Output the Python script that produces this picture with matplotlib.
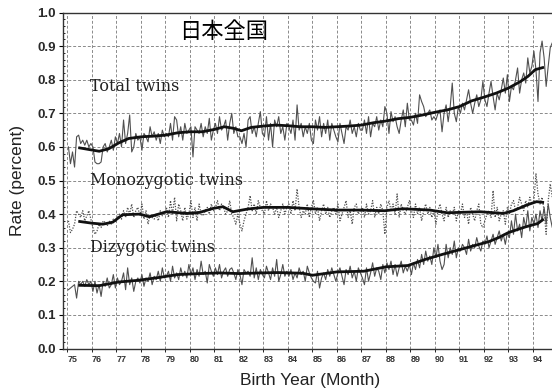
import numpy as np
import matplotlib
matplotlib.use("Agg")
import matplotlib.pyplot as plt
from matplotlib.ticker import FixedLocator, MultipleLocator

# Monthly twin birth rates (percent of births), Japan, Jan 1975 - Dec 1994
years = list(range(1975, 1995))

total_monthly = [
    [0.60, 0.55, 0.585, 0.54, 0.63, 0.635, 0.61, 0.62, 0.605, 0.62, 0.60, 0.61],
    [0.60, 0.555, 0.55, 0.55, 0.555, 0.60, 0.61, 0.585, 0.60, 0.62, 0.59, 0.63],
    [0.61, 0.64, 0.60, 0.68, 0.61, 0.64, 0.695, 0.585, 0.60, 0.64, 0.62, 0.63],
    [0.59, 0.64, 0.63, 0.615, 0.66, 0.63, 0.645, 0.62, 0.64, 0.61, 0.65, 0.63],
    [0.64, 0.63, 0.67, 0.62, 0.69, 0.68, 0.63, 0.66, 0.62, 0.67, 0.64, 0.65],
    [0.66, 0.57, 0.66, 0.65, 0.64, 0.67, 0.63, 0.66, 0.64, 0.685, 0.62, 0.65],
    [0.67, 0.64, 0.69, 0.65, 0.66, 0.68, 0.62, 0.67, 0.70, 0.64, 0.66, 0.63],
    [0.63, 0.61, 0.64, 0.60, 0.68, 0.69, 0.64, 0.66, 0.63, 0.67, 0.705, 0.64],
    [0.63, 0.69, 0.62, 0.67, 0.60, 0.68, 0.66, 0.69, 0.64, 0.66, 0.62, 0.67],
    [0.66, 0.64, 0.68, 0.62, 0.725, 0.65, 0.67, 0.63, 0.66, 0.64, 0.67, 0.62],
    [0.61, 0.68, 0.65, 0.69, 0.63, 0.67, 0.64, 0.68, 0.62, 0.67, 0.65, 0.63],
    [0.615, 0.67, 0.64, 0.61, 0.66, 0.65, 0.68, 0.64, 0.66, 0.63, 0.67, 0.65],
    [0.65, 0.68, 0.64, 0.69, 0.63, 0.67, 0.66, 0.69, 0.65, 0.68, 0.66, 0.72],
    [0.70, 0.64, 0.705, 0.675, 0.69, 0.66, 0.64, 0.68, 0.71, 0.66, 0.73, 0.68],
    [0.68, 0.665, 0.70, 0.67, 0.755, 0.735, 0.72, 0.69, 0.70, 0.71, 0.68, 0.69],
    [0.68, 0.70, 0.71, 0.645, 0.70, 0.725, 0.675, 0.72, 0.79, 0.70, 0.675, 0.72],
    [0.70, 0.73, 0.71, 0.74, 0.77, 0.73, 0.70, 0.73, 0.755, 0.72, 0.74, 0.795],
    [0.74, 0.72, 0.76, 0.795, 0.75, 0.71, 0.76, 0.74, 0.77, 0.805, 0.76, 0.815],
    [0.735, 0.78, 0.77, 0.80, 0.835, 0.76, 0.80, 0.82, 0.79, 0.865, 0.82, 0.84],
    [0.885, 0.83, 0.735, 0.88, 0.915, 0.865, 0.78, 0.84, 0.895, 0.91, 0.88, 0.90],
]

mono_monthly = [
    [0.38, 0.345, 0.355, 0.37, 0.41, 0.40, 0.39, 0.41, 0.38, 0.395, 0.41, 0.385],
    [0.36, 0.34, 0.35, 0.37, 0.36, 0.38, 0.375, 0.365, 0.38, 0.37, 0.385, 0.375],
    [0.39, 0.40, 0.385, 0.41, 0.39, 0.42, 0.40, 0.43, 0.39, 0.41, 0.42, 0.395],
    [0.43, 0.385, 0.41, 0.37, 0.40, 0.39, 0.385, 0.40, 0.38, 0.41, 0.395, 0.40],
    [0.42, 0.39, 0.44, 0.40, 0.45, 0.38, 0.43, 0.41, 0.38, 0.42, 0.385, 0.40],
    [0.44, 0.39, 0.42, 0.38, 0.43, 0.40, 0.395, 0.41, 0.42, 0.40, 0.43, 0.41],
    [0.42, 0.44, 0.41, 0.43, 0.42, 0.40, 0.41, 0.44, 0.40, 0.39, 0.37, 0.40],
    [0.37, 0.35, 0.38, 0.40, 0.42, 0.455, 0.41, 0.43, 0.40, 0.44, 0.42, 0.41],
    [0.40, 0.44, 0.41, 0.43, 0.42, 0.40, 0.42, 0.39, 0.41, 0.43, 0.40, 0.42],
    [0.43, 0.40, 0.44, 0.41, 0.475, 0.42, 0.39, 0.41, 0.40, 0.43, 0.39, 0.42],
    [0.44, 0.40, 0.42, 0.38, 0.41, 0.43, 0.40, 0.42, 0.39, 0.41, 0.42, 0.40],
    [0.43, 0.38, 0.40, 0.42, 0.44, 0.39, 0.41, 0.37, 0.42, 0.43, 0.40, 0.41],
    [0.42, 0.39, 0.43, 0.40, 0.41, 0.44, 0.39, 0.42, 0.40, 0.43, 0.41, 0.34],
    [0.42, 0.44, 0.41, 0.43, 0.40, 0.46, 0.39, 0.43, 0.41, 0.40, 0.42, 0.44],
    [0.41, 0.39, 0.43, 0.40, 0.42, 0.38, 0.41, 0.43, 0.40, 0.42, 0.39, 0.41],
    [0.37, 0.41, 0.43, 0.40, 0.38, 0.42, 0.39, 0.41, 0.40, 0.42, 0.38, 0.41],
    [0.40, 0.43, 0.39, 0.41, 0.37, 0.42, 0.40, 0.38, 0.41, 0.43, 0.37, 0.36],
    [0.38, 0.40, 0.41, 0.39, 0.47, 0.39, 0.42, 0.38, 0.40, 0.41, 0.37, 0.42],
    [0.40, 0.43, 0.44, 0.41, 0.42, 0.45, 0.43, 0.41, 0.44, 0.42, 0.45, 0.43],
    [0.44, 0.52, 0.46, 0.43, 0.45, 0.41, 0.34, 0.44, 0.49, 0.45, 0.44, 0.46],
]

di_monthly = [
    [0.175, 0.18, 0.185, 0.19, 0.15, 0.20, 0.19, 0.20, 0.185, 0.205, 0.19, 0.20],
    [0.17, 0.20, 0.165, 0.19, 0.155, 0.20, 0.185, 0.21, 0.18, 0.19, 0.22, 0.18],
    [0.21, 0.19, 0.20, 0.225, 0.175, 0.24, 0.19, 0.21, 0.17, 0.20, 0.21, 0.195],
    [0.22, 0.185, 0.21, 0.20, 0.225, 0.19, 0.215, 0.205, 0.23, 0.20, 0.24, 0.21],
    [0.215, 0.23, 0.20, 0.245, 0.21, 0.225, 0.205, 0.24, 0.215, 0.23, 0.21, 0.25],
    [0.22, 0.24, 0.205, 0.235, 0.215, 0.26, 0.22, 0.23, 0.195, 0.25, 0.23, 0.215],
    [0.24, 0.22, 0.25, 0.21, 0.23, 0.24, 0.215, 0.235, 0.24, 0.225, 0.205, 0.235],
    [0.22, 0.19, 0.235, 0.225, 0.23, 0.215, 0.27, 0.21, 0.24, 0.205, 0.235, 0.22],
    [0.21, 0.245, 0.225, 0.205, 0.24, 0.215, 0.265, 0.20, 0.22, 0.25, 0.215, 0.23],
    [0.215, 0.235, 0.205, 0.225, 0.21, 0.24, 0.22, 0.23, 0.20, 0.245, 0.225, 0.21],
    [0.20, 0.195, 0.23, 0.18, 0.21, 0.225, 0.205, 0.235, 0.215, 0.24, 0.22, 0.20],
    [0.225, 0.24, 0.215, 0.19, 0.235, 0.22, 0.245, 0.21, 0.23, 0.20, 0.24, 0.225],
    [0.21, 0.19, 0.24, 0.20, 0.225, 0.255, 0.215, 0.24, 0.23, 0.205, 0.25, 0.225],
    [0.255, 0.235, 0.26, 0.22, 0.25, 0.215, 0.24, 0.26, 0.225, 0.245, 0.23, 0.25],
    [0.22, 0.255, 0.235, 0.265, 0.24, 0.28, 0.25, 0.29, 0.26, 0.275, 0.25, 0.30],
    [0.27, 0.31, 0.26, 0.235, 0.25, 0.31, 0.27, 0.30, 0.28, 0.32, 0.27, 0.30],
    [0.29, 0.31, 0.30, 0.28, 0.325, 0.29, 0.31, 0.30, 0.33, 0.305, 0.29, 0.32],
    [0.31, 0.335, 0.30, 0.32, 0.34, 0.31, 0.33, 0.35, 0.32, 0.34, 0.31, 0.345],
    [0.33, 0.38, 0.34, 0.40, 0.35, 0.37, 0.33, 0.39, 0.36, 0.41, 0.35, 0.39],
    [0.37, 0.40, 0.36, 0.41, 0.38, 0.42, 0.37, 0.43, 0.39, 0.36, 0.42, 0.40],
]

# 12-month moving averages (the heavy lines)
total_trend_t = [1975.5, 1975.9, 1976.3, 1976.7, 1977.1, 1977.5, 1978.0, 1978.5,
                 1979.0, 1979.5, 1980.0, 1980.5, 1981.0, 1981.4, 1981.8, 1982.1,
                 1982.5, 1983.0, 1983.5, 1984.0, 1984.5, 1985.0, 1985.5, 1986.0,
                 1986.5, 1987.0, 1987.5, 1988.0, 1988.5, 1989.0, 1989.5, 1990.0,
                 1990.5, 1991.0, 1991.5, 1992.0, 1992.5, 1993.0, 1993.5, 1993.8,
                 1994.1, 1994.4]
total_trend = [0.597, 0.592, 0.587, 0.595, 0.612, 0.625, 0.630, 0.632,
               0.635, 0.642, 0.645, 0.645, 0.652, 0.660, 0.655, 0.648,
               0.658, 0.662, 0.665, 0.663, 0.660, 0.660, 0.658, 0.660,
               0.662, 0.665, 0.672, 0.677, 0.684, 0.688, 0.695, 0.703,
               0.710, 0.720, 0.737, 0.748, 0.760, 0.775, 0.795, 0.810,
               0.830, 0.836]

mono_trend_t = [1975.5, 1976.0, 1976.45, 1976.85, 1977.25, 1977.95, 1978.35,
                1979.05, 1979.9, 1980.4, 1980.95, 1981.35, 1981.75, 1982.35,
                1983.0, 1984.0, 1984.9, 1986.0, 1986.95, 1987.95, 1988.7,
                1989.8, 1990.5, 1991.85, 1992.8, 1993.2, 1993.75, 1994.15,
                1994.4]
mono_trend = [0.378, 0.373, 0.370, 0.376, 0.398, 0.400, 0.392,
              0.407, 0.402, 0.405, 0.417, 0.422, 0.407, 0.415,
              0.420, 0.420, 0.416, 0.412, 0.412, 0.410, 0.416,
              0.412, 0.404, 0.407, 0.402, 0.410, 0.427, 0.437,
              0.435]

di_trend_t = [1975.5, 1976.3, 1977.1, 1977.9, 1978.7, 1979.5, 1980.4, 1981.2,
              1982.0, 1982.9, 1983.6, 1984.6, 1985.0, 1986.0, 1987.1, 1988.0,
              1988.9, 1989.6, 1990.3, 1990.8, 1991.4, 1992.2, 1992.6, 1993.0,
              1993.7, 1994.2, 1994.4]
di_trend = [0.188, 0.187, 0.198, 0.203, 0.211, 0.220, 0.223, 0.225,
            0.223, 0.225, 0.226, 0.224, 0.218, 0.228, 0.230, 0.243,
            0.247, 0.265, 0.280, 0.290, 0.302, 0.318, 0.330, 0.345,
            0.362, 0.372, 0.383]

year_labels = [str(y)[2:] for y in years]
y_ticks = [0.0, 0.1, 0.2, 0.3, 0.4, 0.5, 0.6, 0.7, 0.8, 0.9, 1.0]

# month midpoints on a decimal-year axis
t = np.array([y + (m + 0.5) / 12 for y in years for m in range(12)])
total = np.array(total_monthly).ravel()
mono = np.array(mono_monthly).ravel()
di = np.array(di_monthly).ravel()

plt.rcParams['font.family'] = ['Liberation Sans', 'DejaVu Sans']

fig = plt.figure(figsize=(5.52, 3.90), dpi=100)
ax = fig.add_axes([63 / 552, 1 - 348.5 / 390, 489 / 552, 336 / 390])

ax.plot(t, total, color='#505050', lw=0.8)
ax.plot(total_trend_t, total_trend, color='#111111', lw=2.0)
ax.plot(t, mono, color='#505050', lw=0.9, ls=(0, (1, 1.2)))
ax.plot(mono_trend_t, mono_trend, color='#111111', lw=2.0)
ax.plot(t, di, color='#505050', lw=0.8)
ax.plot(di_trend_t, di_trend, color='#111111', lw=2.0)

ax.set_xlim(1974.82, 1994.78)
ax.set_ylim(0, 1.0)

# year boundaries as grid lines, labels just right of them
ax.xaxis.set_minor_locator(FixedLocator(years))
ax.set_xticks([y + 0.2 for y in years])
ax.set_xticklabels(year_labels, fontsize=6.5, fontweight='bold', color='#333333')
ax.tick_params(axis='x', which='major', length=0, pad=5)
ax.tick_params(axis='x', which='minor', length=2, direction='out')

ax.set_yticks(y_ticks)
ax.set_yticklabels([f"{v:.1f}" for v in y_ticks], fontsize=9.5,
                   fontweight='bold', color='#2a2a2a')
ax.yaxis.set_minor_locator(MultipleLocator(0.02))
ax.tick_params(axis='y', which='major', length=3, direction='out', pad=2)
ax.tick_params(axis='y', which='minor', length=1.5, direction='in')

ax.grid(True, axis='y', which='major', color='#8a8a8a', lw=0.7, ls=(0, (3, 2)))
ax.grid(True, axis='x', which='minor', color='#8a8a8a', lw=0.7, ls=(0, (3, 2)))
ax.set_axisbelow(True)

for side in ('left', 'top', 'bottom'):
    ax.spines[side].set_color('#333333')
    ax.spines[side].set_linewidth(1.0)
ax.spines['right'].set_visible(False)

label_font = dict(family='DejaVu Serif', fontsize=11.5, color='#222222')
ax.text(1975.92, 0.779, 'Total twins', va='center', **label_font)
ax.text(1975.92, 0.499, 'Monozygotic twins', va='center', **label_font)
ax.text(1975.92, 0.300, 'Dizygotic twins', va='center', **label_font)

fig.text(224 / 552, 1 - 32 / 390, '日本全国', ha='center', va='center', fontsize=16,
         family=['Noto Sans CJK JP', 'DejaVu Sans'], color='black')
fig.text(18 / 552, 1 - 180 / 390, 'Rate (percent)', rotation=90, ha='center',
         va='center', fontsize=12.5, color='#222222')
fig.text(310 / 552, 1 - 380 / 390, 'Birth Year (Month)', ha='center', va='center',
         fontsize=12.5, color='#222222')

fig.savefig('out.png', dpi=100)
